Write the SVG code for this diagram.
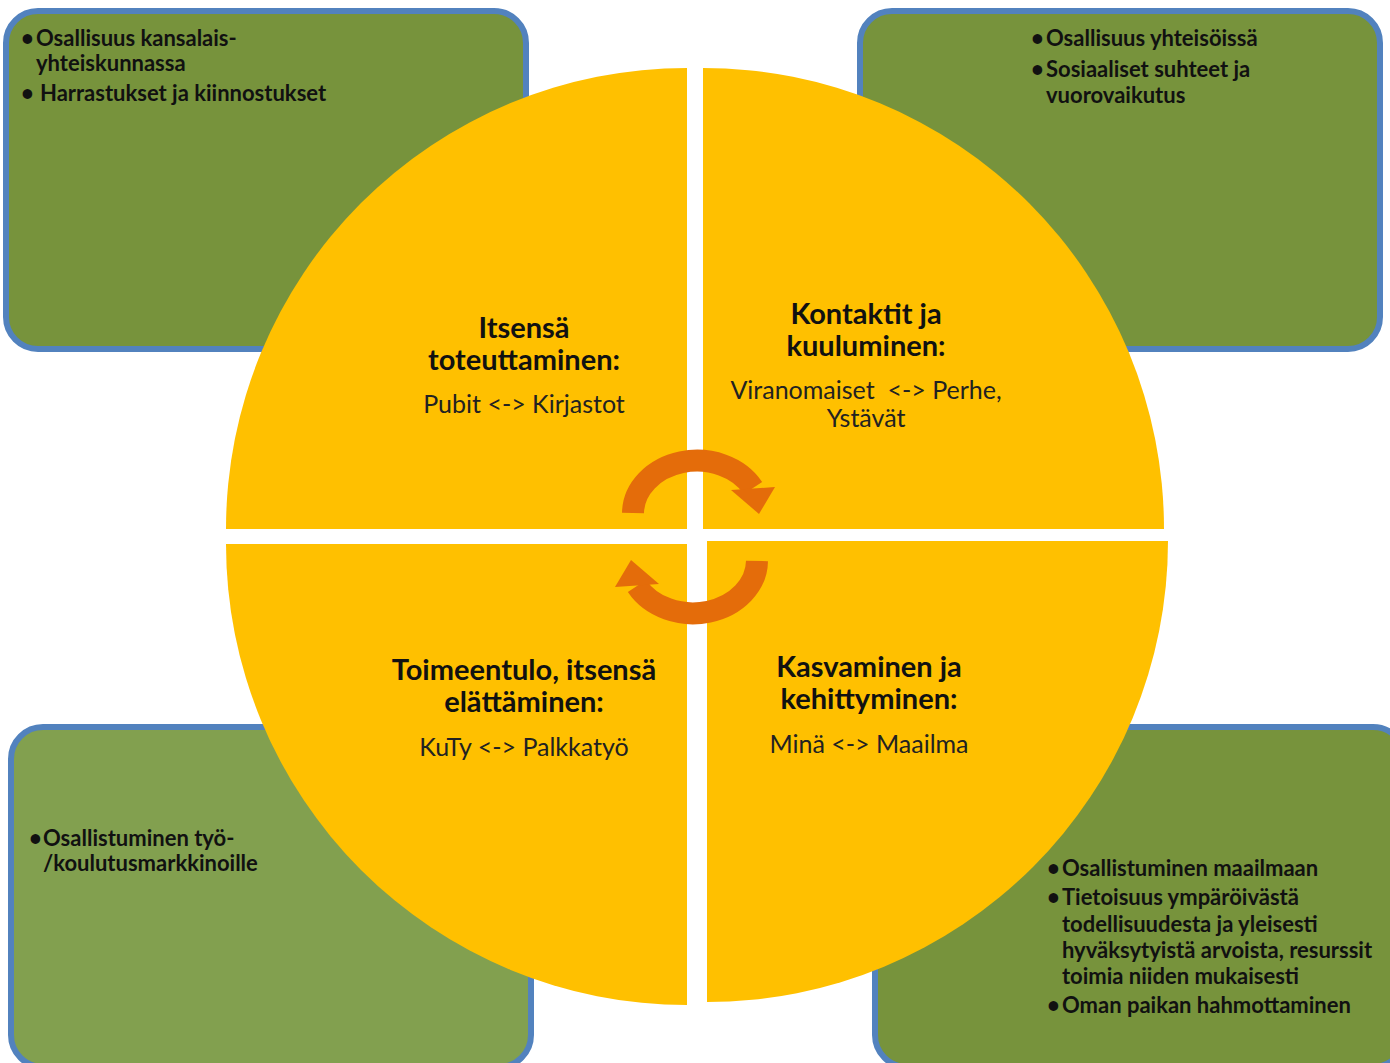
<svg xmlns="http://www.w3.org/2000/svg" width="1390" height="1063" viewBox="0 0 1390 1063">
<style>
.box{stroke:#5282BE;stroke-width:6}
.dk{fill:#77933C}
.lt{fill:#82A04F}
.q{fill:#FFC000}
.bt{font-family:Lato,"Open Sans",sans-serif;font-weight:bold;font-size:22px;fill:#111}
.h{font-family:Lato,"Open Sans",sans-serif;font-weight:bold;font-size:29px;fill:#111;text-anchor:middle}
.r{font-family:Lato,"Open Sans",sans-serif;font-size:25px;fill:#222;text-anchor:middle}
.arr{fill:none;stroke:#E46C0A;stroke-width:22}
.ah{fill:#E46C0A}
</style>
<rect width="1390" height="1063" fill="#fff"/>
<g id="box-tl">
<rect class="box dk" x="6" y="11" width="520" height="338" rx="32"/>
<text class="bt" x="21" y="46">•</text>
<text class="bt" x="36" y="46">Osallisuus kansalais-</text>
<text class="bt" x="36" y="71">yhteiskunnassa</text>
<text class="bt" x="21" y="101">•</text>
<text class="bt" x="40" y="101">Harrastukset ja kiinnostukset</text>
</g>
<g id="box-tr">
<rect class="box dk" x="860" y="11" width="520" height="338" rx="32"/>
<text class="bt" x="1031" y="46">•</text>
<text class="bt" x="1046" y="46">Osallisuus yhteisöissä</text>
<text class="bt" x="1031" y="77">•</text>
<text class="bt" x="1046" y="77">Sosiaaliset suhteet ja</text>
<text class="bt" x="1046" y="103">vuorovaikutus</text>
</g>
<g id="box-bl">
<rect class="box lt" x="11" y="727" width="520" height="340" rx="32"/>
<text class="bt" x="29" y="846">•</text>
<text class="bt" x="43" y="846">Osallistuminen työ-</text>
<text class="bt" x="43" y="871">/koulutusmarkkinoille</text>
</g>
<g id="box-br">
<rect class="box dk" x="875" y="727" width="530" height="340" rx="32"/>
<text class="bt" x="1047" y="876">•</text>
<text class="bt" x="1062" y="876">Osallistuminen maailmaan</text>
<text class="bt" x="1047" y="905">•</text>
<text class="bt" x="1062" y="905">Tietoisuus ympäröivästä</text>
<text class="bt" x="1062" y="932">todellisuudesta ja yleisesti</text>
<text class="bt" x="1062" y="958">hyväksytyistä arvoista, resurssit</text>
<text class="bt" x="1062" y="984">toimia niiden mukaisesti</text>
<text class="bt" x="1047" y="1013">•</text>
<text class="bt" x="1062" y="1013">Oman paikan hahmottaminen</text>
</g>
<g id="q-tl">
<path class="q" d="M687,529 L226,529 A461,461 0 0 1 687,68 Z"/>
<text class="h" x="524" y="338">Itsensä</text>
<text class="h" x="524" y="370">toteuttaminen:</text>
<text class="r" x="524" y="413">Pubit &lt;-&gt; Kirjastot</text>
</g>
<g id="q-tr">
<path class="q" d="M703,529 L703,68 A461,461 0 0 1 1164,529 Z"/>
<text class="h" x="866" y="324">Kontaktit ja</text>
<text class="h" x="866" y="356">kuuluminen:</text>
<text class="r" x="866" y="399" xml:space="preserve">Viranomaiset  &lt;-&gt; Perhe,</text>
<text class="r" x="866" y="427">Ystävät</text>
</g>
<g id="q-bl">
<path class="q" d="M687,544 L687,1005 A461,461 0 0 1 226,544 Z"/>
<text class="h" x="524" y="680">Toimeentulo, itsensä</text>
<text class="h" x="524" y="712">elättäminen:</text>
<text class="r" x="524" y="756">KuTy &lt;-&gt; Palkkatyö</text>
</g>
<g id="q-br">
<path class="q" d="M707,541 L1168,541 A461,461 0 0 1 707,1002 Z"/>
<text class="h" x="869" y="677">Kasvaminen ja</text>
<text class="h" x="869" y="709">kehittyminen:</text>
<text class="r" x="869" y="753">Minä &lt;-&gt; Maailma</text>
</g>
<g id="connectors">
<g id="arrow-top">
<path class="arr" d="M633,513 A64,53 0 0 1 753,488"/>
<polygon class="ah" points="731,490 775,487 759,514"/>
</g>
<g id="arrow-bottom" transform="rotate(180 695 537)">
<path class="arr" d="M633,513 A64,53 0 0 1 753,488"/>
<polygon class="ah" points="731,490 775,487 759,514"/>
</g>
</g>
</svg>
